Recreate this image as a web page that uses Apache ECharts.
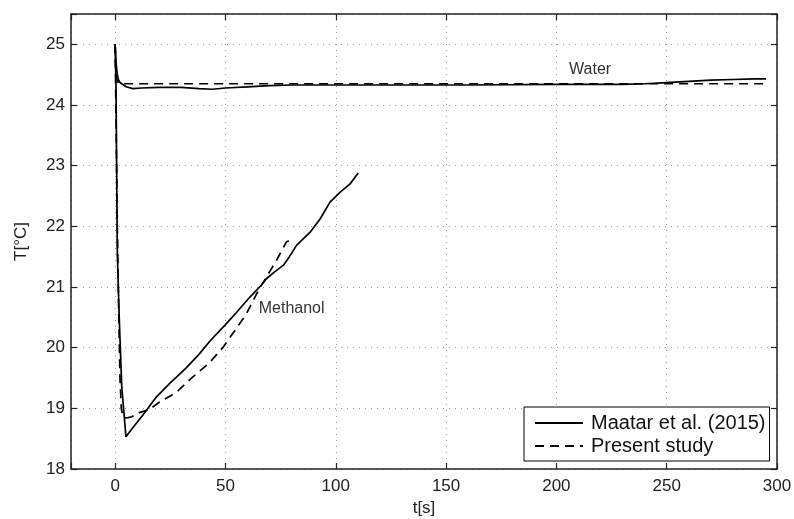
<!DOCTYPE html>
<html>
<head>
<meta charset="utf-8">
<script src="https://cdn.jsdelivr.net/npm/echarts@6/dist/echarts.min.js"></script>
<style>html,body{margin:0;padding:0;background:#fff}#c{width:794px;height:519px}</style>
</head>
<body>
<div id="c"></div>
<script>
// ---- data ----
const waterMaatarT = [0, 0.4, 1.0, 1.5, 2.2, 5, 8, 12, 20, 30, 38, 44, 50, 60, 70, 80, 100, 130, 160, 200, 230, 240, 250, 260, 270, 280, 290, 295];
const waterMaatarY = [25.0, 24.7, 24.5, 24.42, 24.37, 24.3, 24.27, 24.28, 24.29, 24.29, 24.27, 24.26, 24.28, 24.30, 24.32, 24.33, 24.33, 24.33, 24.33, 24.34, 24.34, 24.35, 24.37, 24.39, 24.41, 24.42, 24.43, 24.43];

const waterPresentT = [0, 0.5, 1.5, 5, 50, 100, 150, 200, 250, 295];
const waterPresentY = [25.0, 24.45, 24.36, 24.35, 24.35, 24.35, 24.35, 24.35, 24.35, 24.35];

const methMaatarT = [0, 0.4, 1.0, 1.9, 3.0, 4.9, 8, 12, 18.5, 25, 32, 38, 43, 50, 55, 61, 66, 68.7, 72, 76.3, 79, 82.3, 88.3, 92.9, 97.4, 101.9, 106.5, 110.2];
const methMaatarY = [25.0, 24.3, 21.55, 20.45, 19.36, 18.53, 18.68, 18.86, 19.18, 19.42, 19.66, 19.89, 20.11, 20.38, 20.58, 20.83, 21.02, 21.14, 21.24, 21.36, 21.5, 21.69, 21.90, 22.12, 22.40, 22.56, 22.70, 22.88];

const methPresentT = [0, 0.5, 1.0, 1.6, 2.2, 2.8, 3.5, 5, 7.5, 11, 15.5, 20, 27.6, 35, 42.7, 48.8, 54.8, 59.4, 64, 68.5, 73, 77.6, 79.5];
const methPresentY = [25.0, 23.5, 22.0, 20.6, 19.5, 19.0, 18.86, 18.84, 18.86, 18.93, 18.98, 19.1, 19.26, 19.51, 19.75, 20.0, 20.31, 20.55, 20.88, 21.16, 21.43, 21.74, 21.78];

const seriesNames = ['Maatar et al. (2015)', 'Present study'];
const annotations = [
  { text: 'Water', t: 215.3, y: 24.58 },
  { text: 'Methanol', t: 80, y: 20.64 }
];
const xTicks = [0, 50, 100, 150, 200, 250, 300];
const yTicks = [18, 19, 20, 21, 22, 23, 24, 25];

function zip(a, b) { return a.map((v, i) => [v, b[i]]); }

const FONT = 'Liberation Sans, Arial, Helvetica, sans-serif';
const solidStyle = { color: '#000', width: 1.7, type: 'solid' };
const dashStyle = { color: '#000', width: 1.7, type: [9, 6] };
const gridLine = { show: true, lineStyle: { color: '#9a9a9a', width: 1, type: [1, 5] } };
const axisLine = { show: true, onZero: false, lineStyle: { color: '#222', width: 1.5 } };
const tick = { show: true, inside: true, length: 6, lineStyle: { color: '#222', width: 1.2 } };

const chart = echarts.init(document.getElementById('c'), null, { renderer: 'canvas' });

function annotationMark(a) {
  return {
    coord: [a.t, a.y],
    symbol: 'circle', symbolSize: 1,
    itemStyle: { color: 'rgba(0,0,0,0)' },
    label: { show: true, position: 'inside', formatter: a.text, color: '#333', fontSize: 16, fontFamily: FONT }
  };
}

const option = {
  animation: false,
  backgroundColor: '#fff',
  grid: { left: 71, right: 17, top: 14, bottom: 50, containLabel: false, outerBoundsMode: 'none' },
  xAxis: [{
    type: 'value', min: -20, max: 300, splitNumber: 5,
    name: 't[s]', nameLocation: 'middle', nameGap: 30,
    nameTextStyle: { color: '#222', fontSize: 17, fontFamily: FONT },
    axisLine: axisLine, axisTick: tick, splitLine: gridLine,
    axisLabel: { color: '#222', fontSize: 17, fontFamily: FONT, margin: 9,
      formatter: v => (xTicks.indexOf(v) >= 0 ? String(v) : '') }
  }, {
    type: 'value', min: -20, max: 300, splitNumber: 5, position: 'top',
    axisLine: axisLine, axisTick: tick, splitLine: { show: false }, axisLabel: { show: false }
  }],
  yAxis: [{
    type: 'value', min: 18, max: 25.5, interval: 1,
    name: 'T[°C]', nameLocation: 'middle', nameGap: 41, nameRotate: 90,
    nameTextStyle: { color: '#222', fontSize: 17, fontFamily: FONT },
    axisLine: axisLine, axisTick: tick, splitLine: gridLine,
    axisLabel: { color: '#222', fontSize: 17, fontFamily: FONT, margin: 6,
      formatter: v => (yTicks.indexOf(v) >= 0 ? String(v) : '') }
  }, {
    type: 'value', min: 18, max: 25.5, interval: 1, position: 'right',
    axisLine: axisLine, axisTick: tick, splitLine: { show: false }, axisLabel: { show: false }
  }],
  legend: {
    orient: 'vertical', left: 524, top: 407,
    data: seriesNames,
    backgroundColor: '#fff', borderColor: '#000', borderWidth: 1,
    padding: [6, 4, 5, 10],
    itemWidth: 48, itemHeight: 14, itemGap: 3,
    itemStyle: { color: 'rgba(0,0,0,0)', borderColor: 'rgba(0,0,0,0)', borderWidth: 0 },
    textStyle: { color: '#111', fontSize: 20, fontFamily: FONT, lineHeight: 20, padding: [0, 0, 0, 3] },
    selectedMode: false
  },
  series: [
    { name: seriesNames[0], type: 'line', data: zip(waterMaatarT, waterMaatarY), showSymbol: false, symbol: 'none', lineStyle: solidStyle, itemStyle: { color: '#000' }, z: 3,
      markPoint: { silent: true, data: annotations.map(annotationMark) } },
    { name: seriesNames[1], type: 'line', data: zip(waterPresentT, waterPresentY), showSymbol: false, symbol: 'none', lineStyle: dashStyle, itemStyle: { color: '#000' }, z: 2 },
    { name: seriesNames[0], type: 'line', data: zip(methMaatarT, methMaatarY), showSymbol: false, symbol: 'none', lineStyle: solidStyle, itemStyle: { color: '#000' }, z: 3 },
    { name: seriesNames[1], type: 'line', data: zip(methPresentT, methPresentY), showSymbol: false, symbol: 'none', lineStyle: dashStyle, itemStyle: { color: '#000' }, z: 2 }
  ]
};
chart.setOption(option);
</script>
</body>
</html>
